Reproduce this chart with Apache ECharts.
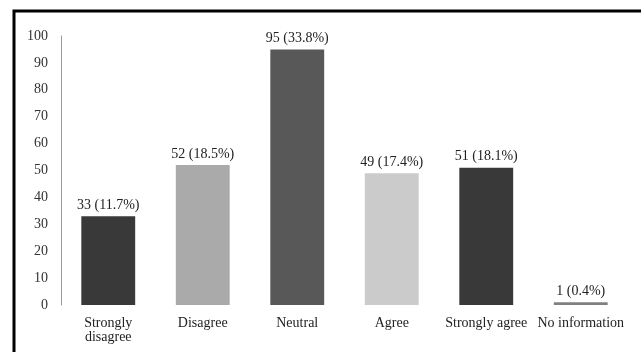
<!DOCTYPE html>
<html>
<head>
<meta charset="utf-8">
<script src="https://cdn.jsdelivr.net/npm/echarts@6/dist/echarts.min.js"></script>
<style>
  html, body { margin: 0; padding: 0; background: #fff; }
  #chart { width: 641px; height: 352px; }
</style>
</head>
<body>
<div id="chart"></div>
<script>
// answers to the question, count and share of respondents
var categories = ['Strongly\ndisagree', 'Disagree', 'Neutral', 'Agree', 'Strongly agree', 'No information']
var counts = [33, 52, 95, 49, 51, 1]
var percents = ['11.7', '18.5', '33.8', '17.4', '18.1', '0.4']
var barColors = ['#393939', '#aaaaaa', '#585858', '#cbcbcb', '#393939', '#808080']

var font = '"Liberation Serif", "DejaVu Serif", serif'

var chart = echarts.init(document.getElementById('chart'))
chart.setOption({
  animation: false,
  grid: { left: 61, right: 13, top: 36, bottom: 47 },
  graphic: [{
    type: 'rect',
    shape: { x: 14, y: 11, width: 700, height: 400 },
    style: { fill: 'none', stroke: '#000', lineWidth: 3 }
  }],
  xAxis: {
    type: 'category',
    data: categories,
    axisLine: { show: false },
    axisTick: { show: false },
    axisLabel: {
      interval: 0,
      margin: 11,
      fontFamily: font,
      fontSize: 14,
      lineHeight: 14,
      color: '#222'
    }
  },
  yAxis: {
    type: 'value',
    min: 0,
    max: 100,
    interval: 10,
    splitLine: { show: false },
    axisTick: { show: false },
    axisLine: { show: true, lineStyle: { color: '#999', width: 1 } },
    axisLabel: {
      margin: 13,
      fontFamily: font,
      fontSize: 14,
      color: '#333'
    }
  },
  series: [{
    type: 'bar',
    barWidth: '57%',
    data: counts.map(function (v, i) {
      return { value: v, itemStyle: { color: barColors[i] } }
    }),
    label: {
      show: true,
      position: 'top',
      distance: 4,
      fontFamily: font,
      fontSize: 14,
      color: '#222',
      formatter: function (p) {
        return p.value + ' (' + percents[p.dataIndex] + '%)'
      }
    }
  }]
})
</script>
</body>
</html>
